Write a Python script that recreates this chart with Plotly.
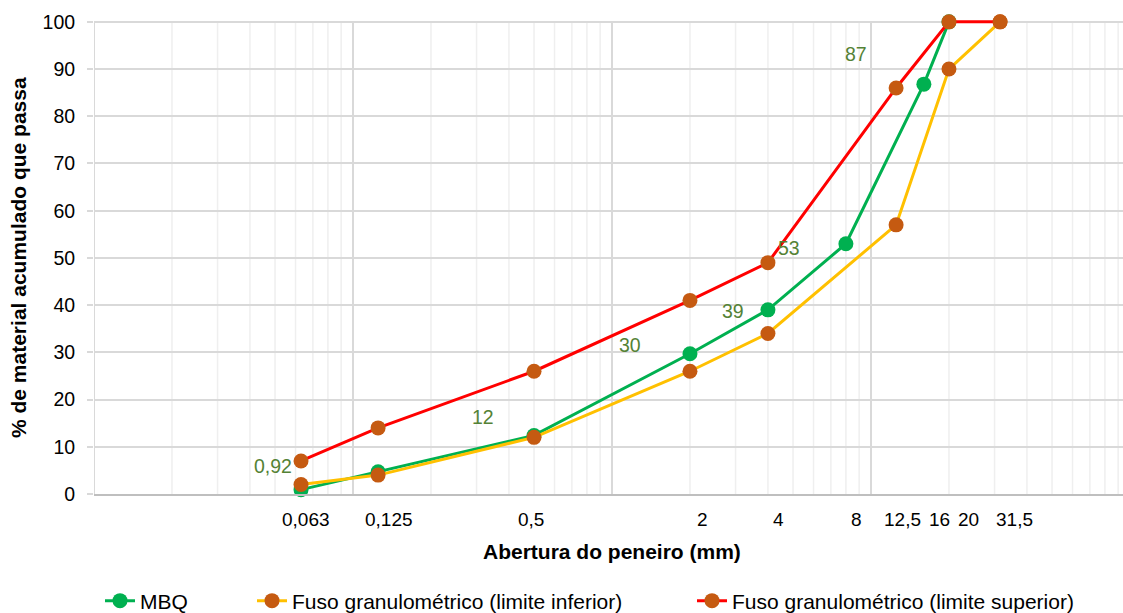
import math
import plotly.graph_objects as go

# ---- data ----
sieves_mbq = [0.063, 0.125, 0.5, 2, 4, 8, 16, 20]
mbq = [0.92, 4.7, 12.4, 29.7, 39, 53, 86.8, 100]
mbq_labels = ["0,92", "", "12", "30", "39", "53", "87", ""]

sieves_fuso = [0.063, 0.125, 0.5, 2, 4, 12.5, 20, 31.5]
lower = [2, 4, 12, 26, 34, 57, 90, 100]
upper = [7, 14, 26, 41, 49, 86, 100, 100]

tick_vals = [0.063, 0.125, 0.5, 2, 4, 8, 12.5, 16, 20, 31.5]
tick_text = ["0,063", "0,125", "0,5", "2", "4", "8", "12,5", "16", "20", "31,5"]

series_names = ["MBQ", "Fuso granulométrico (limite inferior)",
                "Fuso granulométrico (limite superior)"]

# ---- style ----
FONT = "Liberation Sans, Arial, sans-serif"
GREEN = "#00b050"
YELLOW = "#ffc000"
RED = "#ff0000"
ORANGE = "#c55a11"
LABEL = "#548235"
W, H = 1123, 613
L, T, B = 94, 19, 119
PW = W - L
PH = H - T - B
YMAX = 100.6

def px_x(p):
    return (p - L) / PW

def px_y(p):
    return (H - B - p) / PH

label_shift = [(-28, 24), None, (-51, 18), (-60, 9), (-35, -1), (-57, -4), (-68, 30), None]
tick_shift = [5, 11, -3, 13, 11, 11, 6, 16, 20, 14]

fig = go.Figure()
fig.add_trace(go.Scatter(x=sieves_mbq, y=mbq, mode="lines+markers", name=series_names[0],
                         line=dict(color=GREEN, width=3), cliponaxis=False,
                         marker=dict(color=GREEN, size=15), legend="legend", showlegend=True))
fig.add_trace(go.Scatter(x=sieves_fuso, y=lower, mode="lines+markers", name=series_names[1],
                         line=dict(color=YELLOW, width=3), cliponaxis=False,
                         marker=dict(color=ORANGE, size=15), legend="legend2", showlegend=True))
fig.add_trace(go.Scatter(x=sieves_fuso, y=upper, mode="lines+markers", name=series_names[2],
                         line=dict(color=RED, width=3), cliponaxis=False,
                         marker=dict(color=ORANGE, size=15), legend="legend3", showlegend=True))

shapes = []
for e in range(-2, 2):
    for m in range(1, 10):
        v = m * 10 ** e
        if m == 1 and e == -2:
            continue
        shapes.append(dict(type="line", xref="x", yref="y", x0=v, x1=v, y0=0, y1=100,
                           line=dict(color="#d9d9d9" if m == 1 else "#efefef",
                                     width=2 if m == 1 else 1.5),
                           layer="below"))
shapes.append(dict(type="line", xref="x", yref="y", x0=0.01, x1=0.01, y0=0, y1=100,
                   line=dict(color="#d9d9d9", width=2), layer="below"))

annotations = []
for xv, yv, t, sh in zip(sieves_mbq, mbq, mbq_labels, label_shift):
    if t and sh:
        annotations.append(dict(x=math.log10(xv), y=yv, xref="x", yref="y", text=t,
                                showarrow=False, xshift=sh[0], yshift=sh[1],
                                xanchor="center", yanchor="middle",
                                font=dict(family=FONT, size=19.5, color=LABEL)))
for tv, tt, sh in zip(tick_vals, tick_text, tick_shift):
    annotations.append(dict(x=math.log10(tv), y=px_y(519), xref="x", yref="paper", text=tt,
                            showarrow=False, xshift=sh, xanchor="center", yanchor="middle",
                            font=dict(family=FONT, size=19, color="#000000")))
annotations.append(dict(x=px_x(612), y=px_y(551), xref="paper", yref="paper",
                        xanchor="center", yanchor="middle",
                        text="<b>Abertura do peneiro (mm)</b>", showarrow=False,
                        font=dict(family=FONT, size=21, color="#000000")))
annotations.append(dict(x=px_x(18), y=px_y(258), xref="paper", yref="paper",
                        xanchor="center", yanchor="middle",
                        text="<b>% de material acumulado que passa</b>", showarrow=False,
                        textangle=-90, font=dict(family=FONT, size=21, color="#000000")))

leg_common = dict(orientation="h", xanchor="left", yanchor="middle", y=px_y(601),
                  font=dict(family=FONT, size=21, color="#000000"),
                  bgcolor="rgba(0,0,0,0)", itemclick=False, itemdoubleclick=False)

fig.update_layout(
    width=W, height=H,
    margin=dict(l=L, r=0, t=T, b=B, autoexpand=False),
    showlegend=True,
    paper_bgcolor="white", plot_bgcolor="white",
    font=dict(family=FONT, size=19.5, color="#000000"),
    xaxis=dict(type="log", range=[-2, -2 + PW / 259.0], tickvals=tick_vals,
               showticklabels=False, automargin=False,
               showgrid=False, zeroline=False, showline=True, linecolor="#bfbfbf", linewidth=2,
               ticks=""),
    yaxis=dict(range=[0, YMAX], tick0=0, dtick=10, showgrid=True, gridcolor="#d9d9d9",
               gridwidth=2, automargin=False,
               zeroline=False, showline=False,
               ticks="outside", ticklen=6, tickcolor="#d9d9d9", tickwidth=2,
               ticklabelstandoff=8, tickfont=dict(family=FONT, size=19.5)),
    shapes=shapes,
    annotations=annotations,
    legend=dict(x=px_x(100), **leg_common),
    legend2=dict(x=px_x(252), **leg_common),
    legend3=dict(x=px_x(692), **leg_common),
)

fig.write_html("out.html", config={"displayModeBar": False},
               post_script="document.body.style.margin='0';document.body.style.overflow='hidden';")
